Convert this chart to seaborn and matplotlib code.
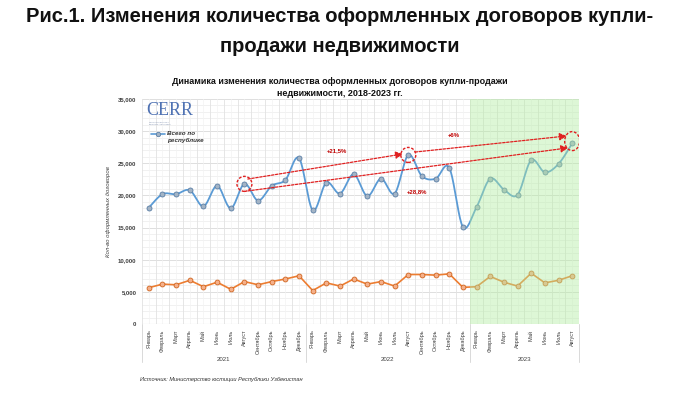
import numpy as np
import pandas as pd
import matplotlib
matplotlib.use("Agg")
import matplotlib.pyplot as plt
import matplotlib.transforms as mtransforms
from matplotlib.patches import Ellipse
import seaborn as sns

# ---------------- data ----------------
months = ["Январь", "Февраль", "Март", "Апрель", "Май", "Июнь", "Июль", "Август",
          "Сентябрь", "Октябрь", "Ноябрь", "Декабрь"]
years = ["2021", "2022", "2023"]
months_per_year = [12, 12, 8]
total = [18100, 20200, 20200, 20800, 18300, 21500, 18000, 21800, 19200, 21500, 22400, 25800,
         17700, 22000, 20300, 23300, 19900, 22600, 20300, 26300, 23000, 22600, 24300, 15100,
         18200, 22600, 20900, 20100, 25500, 23600, 24900, 28100]
second = [5650, 6200, 6100, 6800, 5800, 6500, 5400, 6600, 6100, 6600, 7000, 7500,
          5200, 6400, 5900, 7000, 6200, 6600, 5900, 7700, 7700, 7600, 7800, 5700,
          5800, 7400, 6500, 5900, 7900, 6400, 6800, 7500]
legend_label = "Всего по\nреспублике"
growth_labels = ["+21,5%", "+6%", "+28,8%"]
y_ticks = [0, 5000, 10000, 15000, 20000, 25000, 30000, 35000]

labels = [m for y, n in zip(years, months_per_year) for m in months[:n]]
df = pd.DataFrame({"idx": np.arange(len(total)), "total": total, "second": second, "label": labels})

# ---------------- figure ----------------
sns.set_theme(style="white")
plt.rcParams["font.family"] = ["Liberation Sans", "DejaVu Sans"]

fig = plt.figure(figsize=(6.8, 3.97), dpi=100)
ax = fig.add_axes([142 / 680, 1 - 324 / 397, 437 / 680, 225 / 397])

n = len(total)
ax.set_xlim(-0.5, n - 0.5)
ax.set_ylim(0, 35000)

# grid
for v in np.arange(0, 35001, 1000):
    ax.axhline(v, color="#d9d9d9" if v % 5000 == 0 else "#efefef", lw=0.6, zorder=0)
for i in range(n + 1):
    ax.axvline(i - 0.5, color="#e2e2e2", lw=0.6, zorder=0)
for i in range(n):
    ax.axvline(i, color="#f3f3f3", lw=0.5, zorder=0)

# smoothed blue line (Catmull-Rom style as in Excel smoothing)
def smooth(xs, ys, steps=20):
    xs = np.asarray(xs, float); ys = np.asarray(ys, float)
    px = np.concatenate([[xs[0]], xs, [xs[-1]]])
    py = np.concatenate([[ys[0]], ys, [ys[-1]]])
    outx, outy = [], []
    t = np.linspace(0, 1, steps)
    for k in range(1, len(px) - 2):
        p0 = np.array([px[k - 1], py[k - 1]]); p1 = np.array([px[k], py[k]])
        p2 = np.array([px[k + 1], py[k + 1]]); p3 = np.array([px[k + 2], py[k + 2]])
        c1 = p1 + (p2 - p0) / 6; c2 = p2 - (p3 - p1) / 6
        b = ((1 - t) ** 3)[:, None] * p1 + (3 * (1 - t) ** 2 * t)[:, None] * c1 + \
            (3 * (1 - t) * t ** 2)[:, None] * c2 + (t ** 3)[:, None] * p2
        outx.extend(b[:, 0]); outy.extend(b[:, 1])
    return outx, outy

sx, sy = smooth(df["idx"], df["total"])
ax.plot(sx, sy, color="#5b9bd5", lw=1.3, zorder=3)
sns.scatterplot(data=df, x="idx", y="total", ax=ax, s=13, color="#a3b4c6",
                edgecolor="#5b7fa6", linewidth=0.6, zorder=4, legend=False)
sns.lineplot(data=df, x="idx", y="second", ax=ax, color="#ed7d31", lw=1.2,
             marker="o", markersize=3.5, markerfacecolor="#f5b08a",
             markeredgecolor="#d0651f", markeredgewidth=0.6, zorder=3)

# green highlighted 2023 span
ax.axvspan(23.5, n - 0.5, color="#b0ee9e", alpha=0.42, zorder=5, lw=0)

# axes cosmetics
for s in ax.spines.values():
    s.set_visible(False)
ax.set_xlabel("")
ax.set_ylabel("Кол-во оформленных договоров", fontsize=4.3, style="italic",
              color="#404040", labelpad=5)
ax.set_yticks(y_ticks)
ax.set_yticklabels([f"{v:,}" for v in y_ticks], fontsize=4.3, fontweight="bold", color="#404040")
ax.set_xticks(df["idx"])
ax.set_xticklabels(df["label"], rotation=90, fontsize=4.0, color="#404040", va="top")
ax.tick_params(axis="both", length=0, pad=4)
ax.axhline(0, color="#d0d0d0", lw=0.8, zorder=1)

# year group labels and separators
trans = mtransforms.blended_transform_factory(ax.transData, ax.transAxes)
start = 0
bounds = [-0.5]
for y, cnt in zip(years, months_per_year):
    ax.text(start + (cnt - 1) / 2, -0.156, y, transform=trans, ha="center", va="center",
            fontsize=4.4, color="#404040")
    start += cnt
    bounds.append(start - 0.5)
for b in bounds:
    ax.plot([b, b], [0, -0.169], transform=trans, color="#d9d9d9", lw=0.7, clip_on=False)

# legend
ax.plot([0.15, 1.15], [29500, 29500], color="#5b9bd5", lw=1.2, zorder=6)
ax.scatter([0.65], [29500], s=10, color="#a3b4c6", edgecolor="#5b7fa6", linewidth=0.6, zorder=7)
ax.text(1.35, 29500, legend_label, fontsize=4.5, style="italic", fontweight="bold",
        color="#303030", va="top", ha="left", linespacing=1.5,
        transform=ax.transData + mtransforms.ScaledTranslation(0, 3 / 100, fig.dpi_scale_trans))

# logo
ax.text(-0.2, 33200, "CERR", fontsize=13, family=["Liberation Serif", "DejaVu Serif"],
        color="#4f72b3", va="center", ha="left", zorder=6)
ax.text(0.0, 31200, "CENTER FOR ECONOMIC\nRESEARCH AND REFORMS", fontsize=1.2, color="#8090b0",
        va="center", ha="left", zorder=6)

# growth annotations
red = "#e02020"
arrow_kw = dict(arrowstyle="-|>,head_length=0.35,head_width=0.18", color=red, lw=0.9,
                linestyle=(0, (2, 1.2)), shrinkA=0, shrinkB=0)
ax.annotate("", xy=(18.6, 26450), xytext=(7.25, 22550), arrowprops=arrow_kw, zorder=8)
ax.annotate("", xy=(30.6, 29250), xytext=(19.5, 26750), arrowprops=arrow_kw, zorder=8)
ax.annotate("", xy=(30.7, 27400), xytext=(7.25, 20700), arrowprops=arrow_kw, zorder=8)

px_per_idx = 437 / n
def circ(i, v, w, h):
    e = Ellipse((i, v), width=w / px_per_idx, height=h / 225 * 35000, fill=False,
                edgecolor=red, lw=1.0, linestyle=(0, (2, 1.2)), zorder=8)
    ax.add_patch(e)
circ(7, total[7], 15, 15)
circ(19, total[19], 15, 15)
circ(31, total[31] + 350, 15, 19)

ax.text(13.8, 26900, growth_labels[0], color="#c00000", fontsize=4.3, fontweight="bold",
        ha="center", va="center", zorder=9)
ax.text(22.3, 29250, growth_labels[1], color="#c00000", fontsize=4.3, fontweight="bold",
        ha="center", va="center", zorder=9)
ax.text(19.6, 20600, growth_labels[2], color="#c00000", fontsize=4.3, fontweight="bold",
        ha="center", va="center", zorder=9)

# titles
tfam = ["Liberation Sans", "DejaVu Sans"]
fig.text(0.5, 1 - 17 / 397, "Рис.1. Изменения количества оформленных договоров купли-",
         ha="center", va="center", fontsize=14.5, fontweight="bold", family=tfam, color="#111111")
fig.text(0.5, 1 - 47 / 397, "продажи недвижимости",
         ha="center", va="center", fontsize=14.5, fontweight="bold", family=tfam, color="#111111")
fig.text(0.5, 1 - 82 / 397, "Динамика изменения количества оформленных договоров купли-продажи",
         ha="center", va="center", fontsize=6.5, fontweight="bold", color="#111111")
fig.text(0.5, 1 - 94 / 397, "недвижимости, 2018-2023 гг.",
         ha="center", va="center", fontsize=6.5, fontweight="bold", color="#111111")
fig.text(140 / 680, 1 - 380 / 397, "Источник: Министерство юстиции Республики Узбекистан",
         ha="left", va="center", fontsize=4.1, style="italic", color="#303030")

fig.savefig("out.png", dpi=100)
